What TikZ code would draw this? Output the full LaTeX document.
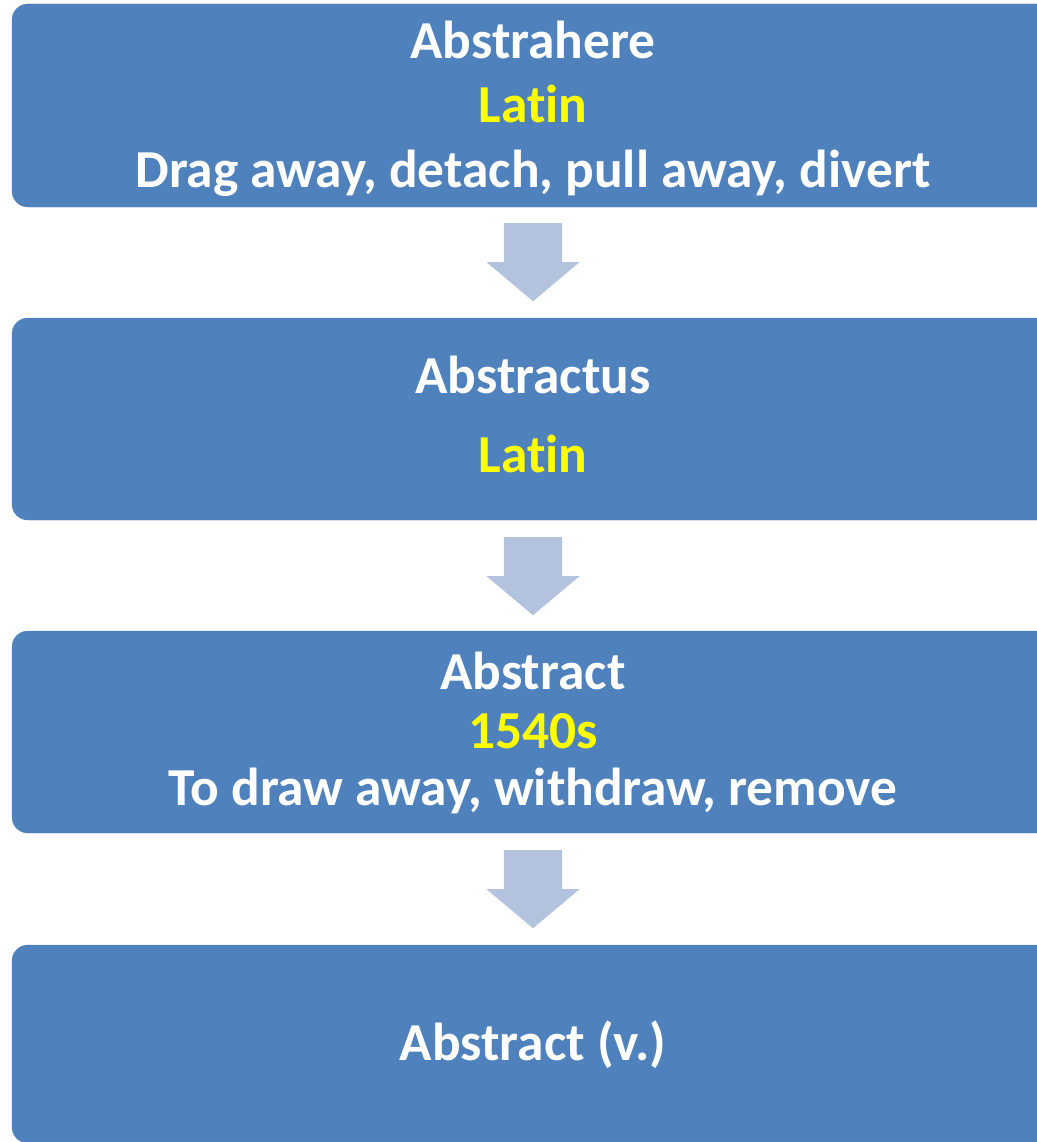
\documentclass[tikz,border=0pt]{standalone}
\usepackage{fontspec}
\setmainfont{Carlito}[Ligatures=NoCommon]
\usetikzlibrary{shapes.arrows,calc}
\definecolor{boxblue}{HTML}{4F81BD}
\definecolor{arrowblue}{HTML}{B3C3DE}
\definecolor{yel}{HTML}{FFFF00}
\tikzset{
  stagebox/.style={fill=boxblue, draw=boxblue, rounded corners=16pt},
  wtxt/.style={anchor=base, text=white, font=\fontsize{53.4}{64}\selectfont\bfseries, inner sep=0pt},
  ytxt/.style={wtxt, text=yel},
  downarrow/.style={single arrow, fill=arrowblue, draw=none, rotate=-90,
    minimum height=78pt, inner xsep=0pt, inner ysep=29pt,
    single arrow head extend=17.5pt, single arrow tip angle=100, anchor=tail}
}
\begin{document}
\begin{tikzpicture}[x=1pt,y=-1pt]
\draw[stagebox] (12,4) rectangle (1054,207);
\coordinate (b1s) at (533,207);
\draw[stagebox] (12,318) rectangle (1054,520);
\coordinate (b2n) at (533,318);
\coordinate (b2s) at (533,520);
\draw[stagebox] (12,631) rectangle (1054,833);
\coordinate (b3n) at (533,631);
\coordinate (b3s) at (533,833);
\draw[stagebox] (12,945) rectangle (1054,1143);
\coordinate (b4n) at (533,945);

\node[wtxt] (t11) at (533,59) {Abstrahere};
\node[ytxt] (t12) at (533,123) {Latin};
\node[wtxt] (t13) at (533,187) {Drag away, detach, pull away, divert};

\node[wtxt] (t21) at (533,393) {Abstractus};
\node[ytxt] (t22) at (533,472) {Latin};

\node[wtxt] (t31) at (533,689) {Abstract};
\node[ytxt] (t32) at (533,748) {1540s};
\node[wtxt] (t33) at (533,805) {To draw away, withdraw, remove};

\node[wtxt] (t41) at (533,1060) {Abstract (v.)};

\node[downarrow] (a1) at ($(b1s)+(0,16)$) {};
\node[downarrow] (a2) at ($(b2s)+(0,17)$) {};
\node[downarrow] (a3) at ($(b3s)+(0,17)$) {};
\pgfresetboundingbox
\useasboundingbox (0,0) rectangle (1036,1142);
\end{tikzpicture}
\end{document}
